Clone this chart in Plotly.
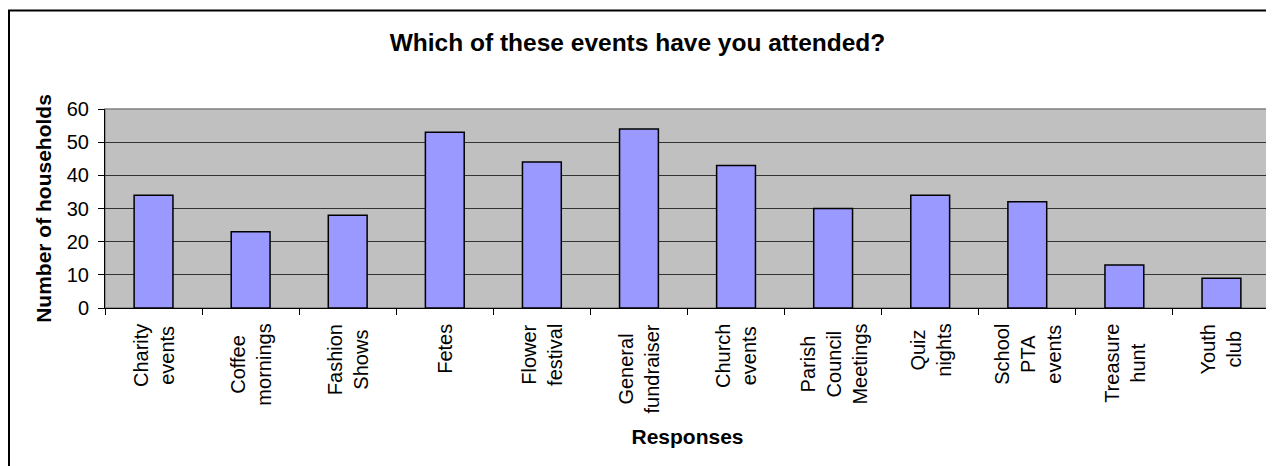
import plotly.graph_objects as go

categories = ["Charity events", "Coffee mornings", "Fashion Shows", "Fetes",
              "Flower festival", "General fundraiser", "Church events",
              "Parish Council Meetings", "Quiz nights", "School PTA events",
              "Treasure hunt", "Youth club"]
tick_labels = ["Charity<br>events", "Coffee<br>mornings", "Fashion<br>Shows", "Fetes",
               "Flower<br>festival", "General<br>fundraiser", "Church<br>events",
               "Parish<br>Council<br>Meetings", "Quiz<br>nights", "School<br>PTA<br>events",
               "Treasure<br>hunt", "Youth<br>club"]
values = [34, 23, 28, 53, 44, 54, 43, 30, 34, 32, 13, 9]
y_ticks = [0, 10, 20, 30, 40, 50, 60]

title_text = "Which of these events have you attended?"
x_title = "Responses"
y_title = "Number of households"

FONT = "Arial, Liberation Sans, sans-serif"
# page body has an 8px margin, so the figure starts at (8, 8)
W, H = 1266, 458
L, R, T, B = 97, 4, 101, 158
pw, ph = W - L - R, H - T - B

fig = go.Figure()
fig.add_trace(go.Bar(
    x=categories, y=values,
    marker=dict(color="#9999FF", line=dict(color="black", width=1.5)),
    hoverinfo="x+y",
))

def px_x(p):
    return (p - L) / pw

def px_y(p):
    return (H - B - p) / ph

annotations = []
for cat, lab in zip(categories, tick_labels):
    annotations.append(dict(
        x=cat, xref="x", y=0, yref="paper", yshift=-15,
        text=lab, textangle=-90, showarrow=False,
        xanchor="center", yanchor="top", align="center", borderpad=0,
        font=dict(family=FONT, size=20, color="black"),
    ))

fig.update_layout(
    width=W, height=H,
    margin=dict(l=L, r=R, t=T, b=B, pad=0),
    paper_bgcolor="white",
    plot_bgcolor="#C0C0C0",
    bargap=0.6,
    showlegend=False,
    font=dict(family=FONT, color="black", size=20),
    title=dict(text="<b>" + title_text + "</b>", x=629.5 / W, xref="container", xanchor="center",
               y=1 - 34 / H, yref="container", yanchor="middle",
               font=dict(family=FONT, size=24.5, color="black")),
    xaxis=dict(
        type="category",
        ticks="outside", ticklen=6, tickcolor="black", tickwidth=1,
        tickson="boundaries",
        showticklabels=False,
        showline=True, linecolor="black", linewidth=1,
        showgrid=False,
        title=dict(text="<b>" + x_title + "</b>", standoff=121,
                   font=dict(family=FONT, size=21, color="black")),
    ),
    yaxis=dict(
        range=[0, 60],
        tickvals=y_ticks,
        ticks="outside", ticklen=6, tickcolor="black", tickwidth=1,
        showline=True, linecolor="black", linewidth=1,
        showgrid=True, gridcolor="#333333", gridwidth=1,
        zeroline=False,
        tickfont=dict(family=FONT, size=20, color="black"),
        ticklabelstandoff=5,
        title=dict(text="<b>" + y_title + "</b>", standoff=9,
                   font=dict(family=FONT, size=21, color="black")),
    ),
    annotations=annotations,
    shapes=[
        dict(type="rect", xref="paper", yref="paper", x0=0, x1=1, y0=0, y1=1,
             line=dict(color="#808080", width=1.5), layer="below"),
        dict(type="rect", xref="paper", yref="paper",
             x0=px_x(1), x1=px_x(W + 10), y0=px_y(H + 10), y1=px_y(2.5),
             line=dict(color="black", width=2), fillcolor="rgba(0,0,0,0)"),
    ],
)

fig.write_html("out.html")
